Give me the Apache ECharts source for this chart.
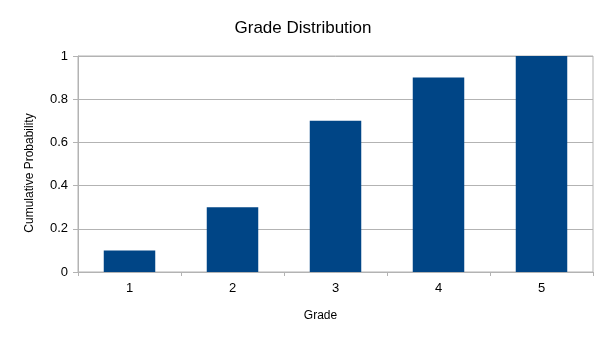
<!DOCTYPE html>
<html>
<head>
<meta charset="utf-8">
<script src="https://cdn.jsdelivr.net/npm/echarts@6/dist/echarts.min.js"></script>
<style>
  html, body { margin: 0; padding: 0; background: #fff; }
  #chart { width: 606px; height: 341px; }
</style>
</head>
<body>
<div id="chart"></div>
<script>
// Cumulative probability per grade
const grades = ['1', '2', '3', '4', '5'];
const cumulativeProbability = [0.1, 0.3, 0.7, 0.9, 1.0];
const yTicks = [0, 0.2, 0.4, 0.6, 0.8, 1];

const font = '"Liberation Sans", Arial, sans-serif';
const lineColor = '#b3b3b3';

const chart = echarts.init(document.getElementById('chart'), null, { renderer: 'canvas' });
chart.setOption({
  animation: false,
  title: {
    text: 'Grade Distribution',
    left: 'center',
    top: 15,
    textStyle: { fontFamily: font, fontSize: 17, fontWeight: 'normal', color: '#000' }
  },
  grid: {
    left: 78, right: 13, top: 56, bottom: 69,
    show: true, borderColor: lineColor, borderWidth: 1
  },
  xAxis: {
    type: 'category',
    data: grades,
    name: 'Grade',
    nameLocation: 'middle',
    nameGap: 38,
    nameTextStyle: { fontFamily: font, fontSize: 12, color: '#000', padding: [0, 30, 0, 0] },
    axisLine: { lineStyle: { color: lineColor } },
    axisTick: { show: true, length: 4, lineStyle: { color: lineColor } },
    axisLabel: { fontFamily: font, fontSize: 13, color: '#000', margin: 10 }
  },
  yAxis: {
    type: 'value',
    min: yTicks[0],
    max: yTicks[yTicks.length - 1],
    interval: 0.2,
    name: 'Cumulative Probability',
    nameLocation: 'middle',
    nameGap: 42,
    nameTextStyle: { fontFamily: font, fontSize: 12, color: '#000', padding: [0, 18, 0, 0] },
    axisLine: { show: true, lineStyle: { color: lineColor } },
    axisTick: { show: true, length: 5, lineStyle: { color: lineColor } },
    splitLine: { show: true, lineStyle: { color: lineColor } },
    axisLabel: {
      fontFamily: font, fontSize: 13, color: '#000', margin: 10,
      formatter: v => String(Math.round(v * 10) / 10)
    }
  },
  series: [{
    type: 'bar',
    data: cumulativeProbability,
    barWidth: '50%',
    itemStyle: { color: '#004586' }
  }]
});
</script>
</body>
</html>
